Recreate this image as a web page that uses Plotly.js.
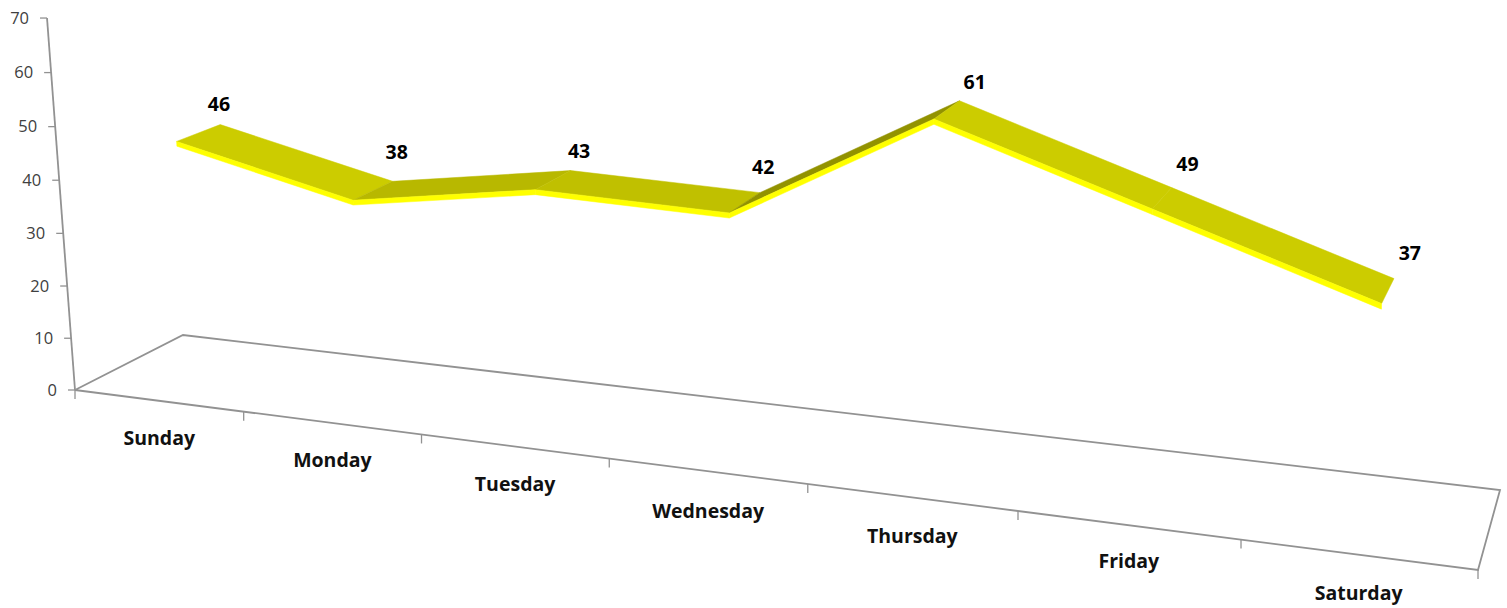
<!DOCTYPE html>
<html>
<head>
<meta charset="utf-8">
<script src="https://cdn.plot.ly/plotly-3.0.1.min.js"></script>
<style>
  html, body { margin: 0; padding: 0; background: #fff; }
  #chart { width: 1507px; height: 608px; }
</style>
</head>
<body>
<div id="chart"></div>
<script>
// Weekly totals, drawn as a 3-D ribbon line on a perspective floor.
const days = ["Sunday", "Monday", "Tuesday", "Wednesday", "Thursday", "Friday", "Saturday"];
const totals = [46, 38, 43, 42, 61, 49, 37];
const valueTicks = [0, 10, 20, 30, 40, 50, 60, 70];
const valueMax = 70;

// Shade of the ribbon's upper face for each day-to-day segment.
const segmentShades = ["#CCCC00", "#B8B800", "#C0C000", "#929200", "#CCCC00", "#CCCC00"];
const frontShade = "#FFFF00";

// Small per-label shifts that keep the value labels clear of the ribbon.
const labelShiftX = [2, 5, 7, -1, 8, 5, 1];
const labelShiftY = [7, -3, 7, 0, 8, 1, -3];
const dayShiftY = [0, 0, 1, 3, 2, -1, 2];

// Perspective camera: (u along days, d into depth, t up the value axis).
function project(u, d, value) {
  const t = value / valueMax;
  const w = 1 - 0.18 * u + 0.0683 * d - 0.03 * t;
  return [
    (75 + 1136.96 * u + 120.5 * d - 29.4 * t) / w,
    (390 + 77.4 * u - 32.1 * d - 372.5 * t) / w
  ];
}

const dayCentre = i => (i + 0.5) / days.length;
const dayPos = i => dayCentre(i) - 0.002 + 0.006 * dayCentre(i);
const frontDepth = 0.33, backDepth = 0.74, ribbonThickness = 0.9;

const traces = [];
function polyline(pts, color, width) {
  traces.push({
    type: "scatter", mode: "lines", hoverinfo: "skip", showlegend: false,
    x: pts.map(p => p[0]), y: pts.map(p => p[1]),
    line: { color: color, width: width, simplify: false }
  });
}
function face(pts, color) {
  const ring = pts.concat([pts[0]]);
  traces.push({
    type: "scatter", mode: "lines", fill: "toself", fillcolor: color,
    hoverinfo: "skip", showlegend: false,
    x: ring.map(p => p[0]), y: ring.map(p => p[1]),
    line: { color: color, width: 0.5, simplify: false }
  });
}
function labels(xs, ys, texts, font, position) {
  traces.push({
    type: "scatter", mode: "text", hoverinfo: "skip", showlegend: false,
    x: xs, y: ys, text: texts, textposition: position, textfont: font, cliponaxis: false
  });
}

// Floor outline and value axis
const axisGray = "#929292";
polyline([project(0, 0, 0), project(1, 0, 0), project(1, 1, 0), project(0, 1, 0), project(0, 0, 0)], axisGray, 1.8);
polyline([project(0, 0, 0), project(0, 0, valueMax)], axisGray, 1.8);

// Tick marks on both axes
valueTicks.forEach(v => {
  const p = project(0, 0, v);
  polyline([[p[0] - 7, p[1]], p], axisGray, 1.3);
});
for (let i = 0; i <= days.length; i++) {
  const p = project(i / days.length, 0, 0);
  polyline([p, [p[0], p[1] + 9]], axisGray, 1.3);
}

// Ribbon: upper faces first, then the bright front strip
totals.slice(1).forEach((v, k) => {
  const u0 = dayPos(k), u1 = dayPos(k + 1), v0 = totals[k];
  face([project(u0, frontDepth, v0), project(u0, backDepth, v0),
        project(u1, backDepth, v), project(u1, frontDepth, v)], segmentShades[k]);
});
totals.slice(1).forEach((v, k) => {
  const u0 = dayPos(k), u1 = dayPos(k + 1), v0 = totals[k];
  face([project(u0, frontDepth, v0), project(u1, frontDepth, v),
        project(u1, frontDepth, v - ribbonThickness), project(u0, frontDepth, v0 - ribbonThickness)], frontShade);
});

// Value axis labels
const tickPts = valueTicks.map(v => project(0, 0, v));
labels(tickPts.map(p => p[0] - 18), tickPts.map(p => p[1] + 1.5), valueTicks.map(String),
  { family: "'Open Sans', sans-serif", size: 16.5, color: "#404040" }, "middle left");

// Day labels under the front edge
const dayPts = days.map((_, i) => project(dayCentre(i), 0, 0));
labels(dayPts.map(p => p[0] + 1), dayPts.map((p, i) => p[1] + 39 + dayShiftY[i]), days,
  { family: "'Open Sans', sans-serif", size: 19.5, color: "#111111", weight: 700 }, "middle center");

// Value labels above the ribbon
const valPts = totals.map((v, i) => project(dayPos(i), 0.5, v));
labels(valPts.map((p, i) => p[0] + 22 + labelShiftX[i]), valPts.map((p, i) => p[1] - 35 + labelShiftY[i]),
  totals.map(String),
  { family: "'Open Sans', sans-serif", size: 19.5, color: "#000000", weight: 700 }, "middle center");

const hiddenAxis = { visible: false, fixedrange: true, showgrid: false, zeroline: false };
Plotly.newPlot("chart", traces, {
  width: 1507, height: 608,
  margin: { l: 0, r: 0, t: 0, b: 0 },
  paper_bgcolor: "#ffffff", plot_bgcolor: "#ffffff",
  showlegend: false,
  xaxis: Object.assign({ range: [0, 1507] }, hiddenAxis),
  yaxis: Object.assign({ range: [608, 0] }, hiddenAxis)
}, { displayModeBar: false, staticPlot: true });
</script>
</body>
</html>
